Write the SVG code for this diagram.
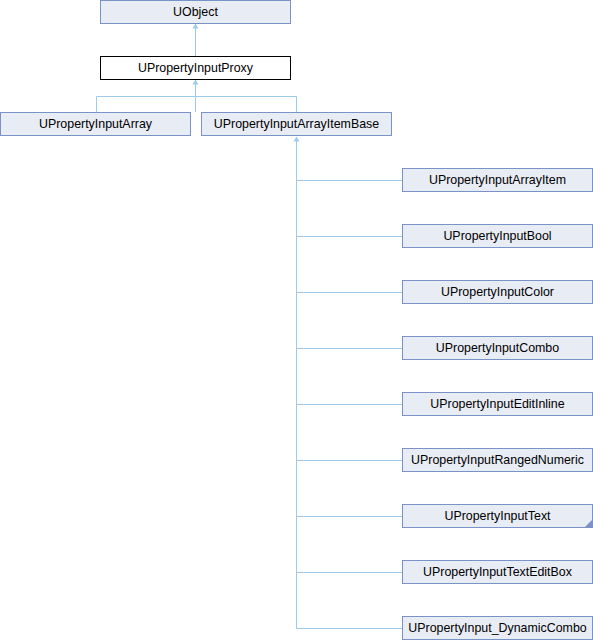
<svg xmlns="http://www.w3.org/2000/svg" width="593" height="640" viewBox="0 0 593 640">
<style>
.box{fill:#e8ecf5;stroke:#7b92c8;stroke-width:1}
.plain{fill:#ffffff;stroke:#000000;stroke-width:1}
.lbl{font-family:"Liberation Sans",Arial,sans-serif;font-size:12.4px;fill:#000;text-anchor:middle}
.ln{fill:none;stroke:#9ccbec;stroke-width:1}
.ah{fill:#9ccbec;stroke:none}
</style>
<rect width="593" height="640" fill="#ffffff"/>
<g id="connectors">
<path class="ln" d="M195.5,57 V24"/>
<path class="ah" d="M195.5,23.5 l-3,5 h6 z"/>
<path class="ln" d="M195.5,112 V80 M96.5,112 V96.5 H296.5 V112"/>
<path class="ah" d="M195.5,79.5 l-3,5 h6 z"/>
<path class="ln" d="M296.5,628.5 V137 M296.5,180.5 H402 M296.5,236.5 H402 M296.5,292.5 H402 M296.5,348.5 H402 M296.5,404.5 H402 M296.5,460.5 H402 M296.5,516.5 H402 M296.5,572.5 H402 M296.5,628.5 H402"/>
<path class="ah" d="M296.5,136.5 l-3,5 h6 z"/>
</g>
<g id="UObject"><rect class="box" x="100.5" y="0.5" width="190" height="23"/><text class="lbl" x="195.5" y="16">UObject</text></g>
<g id="UPropertyInputProxy"><rect class="plain" x="100.5" y="56.5" width="190" height="23"/><text class="lbl" x="195.5" y="72">UPropertyInputProxy</text></g>
<g id="UPropertyInputArray"><rect class="box" x="0.5" y="112.5" width="190" height="23"/><text class="lbl" x="95.5" y="128">UPropertyInputArray</text></g>
<g id="UPropertyInputArrayItemBase"><rect class="box" x="201.5" y="112.5" width="190" height="23"/><text class="lbl" x="296.5" y="128">UPropertyInputArrayItemBase</text></g>
<g id="UPropertyInputArrayItem"><rect class="box" x="402.5" y="168.5" width="190" height="23"/><text class="lbl" x="497.5" y="184">UPropertyInputArrayItem</text></g>
<g id="UPropertyInputBool"><rect class="box" x="402.5" y="224.5" width="190" height="23"/><text class="lbl" x="497.5" y="240">UPropertyInputBool</text></g>
<g id="UPropertyInputColor"><rect class="box" x="402.5" y="280.5" width="190" height="23"/><text class="lbl" x="497.5" y="296">UPropertyInputColor</text></g>
<g id="UPropertyInputCombo"><rect class="box" x="402.5" y="336.5" width="190" height="23"/><text class="lbl" x="497.5" y="352">UPropertyInputCombo</text></g>
<g id="UPropertyInputEditInline"><rect class="box" x="402.5" y="392.5" width="190" height="23"/><text class="lbl" x="497.5" y="408">UPropertyInputEditInline</text></g>
<g id="UPropertyInputRangedNumeric"><rect class="box" x="402.5" y="448.5" width="190" height="23"/><text class="lbl" x="497.5" y="464">UPropertyInputRangedNumeric</text></g>
<g id="UPropertyInputText"><rect class="box" x="402.5" y="504.5" width="190" height="23"/><path d="M592.5,519.5 V527.5 H584.5 z" fill="#7b92c8"/><text class="lbl" x="497.5" y="520">UPropertyInputText</text></g>
<g id="UPropertyInputTextEditBox"><rect class="box" x="402.5" y="560.5" width="190" height="23"/><text class="lbl" x="497.5" y="576">UPropertyInputTextEditBox</text></g>
<g id="UPropertyInput_DynamicCombo"><rect class="box" x="402.5" y="616.5" width="190" height="23"/><text class="lbl" x="497.5" y="632">UPropertyInput_DynamicCombo</text></g>
</svg>
